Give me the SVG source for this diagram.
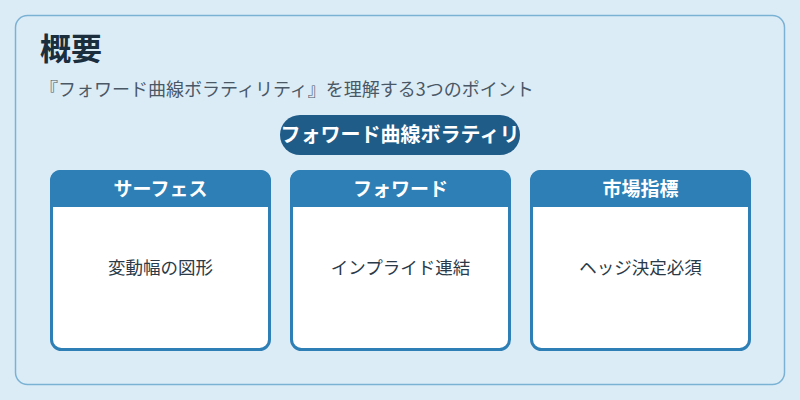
<svg xmlns="http://www.w3.org/2000/svg" width="800" height="400" viewBox="0 0 800 400">
<style>
text{font-family:"Noto Sans CJK JP","Noto Sans",sans-serif}
.card{fill:#ffffff;stroke:#2e7fb5;stroke-width:3}
.hdr{fill:#2e7fb5}
.ht{fill:#ffffff;font-size:19px;font-weight:bold;text-anchor:middle}
.bt{fill:#2a3a48;font-size:17.5px;text-anchor:middle}
</style>
<rect x="0" y="0" width="800" height="400" fill="#dcecf7"/>
<rect x="15.5" y="15.5" width="769" height="369" rx="12" fill="#dcecf7" stroke="#7ab2d4" stroke-width="1.5"/>
<text x="40" y="60" font-size="31" font-weight="bold" fill="#1a2e3e">概要</text>
<text x="40" y="96" font-size="18" fill="#4a5866">『フォワード曲線ボラティリティ』を理解する3つのポイント</text>
<g id="pill">
<rect x="280" y="115" width="240" height="40" rx="20" fill="#1f5c88"/>
<text x="400" y="142" font-size="20" font-weight="bold" fill="#ffffff" text-anchor="middle">フォワード曲線ボラティリ</text>
</g>
<g id="connectors"></g>
<g id="card1">
<rect class="card" x="51.5" y="171.5" width="218" height="178" rx="10"/>
<path class="hdr" d="M50 207 V180 A10 10 0 0 1 60 170 H261 A10 10 0 0 1 271 180 V207 Z"/>
<text class="ht" x="160.5" y="196">サーフェス</text>
<text class="bt" x="160.5" y="274">変動幅の図形</text>
</g>
<g id="card2">
<rect class="card" x="291.5" y="171.5" width="218" height="178" rx="10"/>
<path class="hdr" d="M290 207 V180 A10 10 0 0 1 300 170 H501 A10 10 0 0 1 511 180 V207 Z"/>
<text class="ht" x="400.5" y="196">フォワード</text>
<text class="bt" x="400.5" y="274">インプライド連結</text>
</g>
<g id="card3">
<rect class="card" x="531.5" y="171.5" width="218" height="178" rx="10"/>
<path class="hdr" d="M530 207 V180 A10 10 0 0 1 540 170 H741 A10 10 0 0 1 751 180 V207 Z"/>
<text class="ht" x="640.5" y="196">市場指標</text>
<text class="bt" x="640.5" y="274">ヘッジ決定必須</text>
</g>
</svg>
